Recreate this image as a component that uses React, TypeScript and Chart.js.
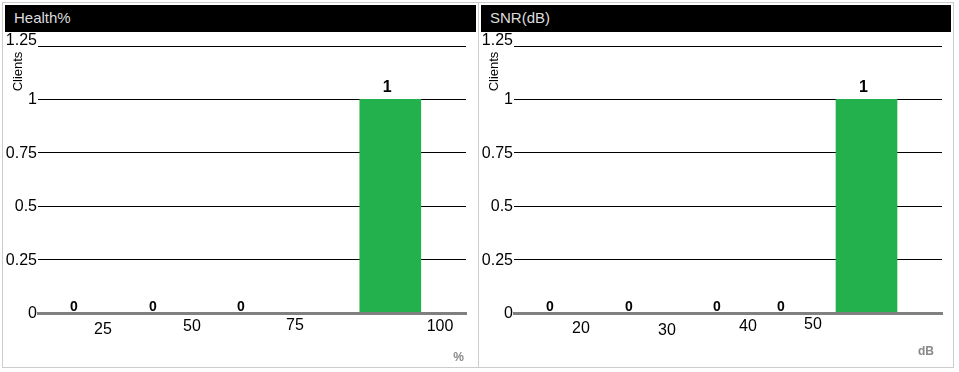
import React, { useEffect, useRef } from 'react';
import { Chart, registerables } from 'chart.js';

Chart.register(...registerables);

// ---- Health% panel (positions are in the chart's 0-100 axis units) ----
const healthBinPositions = [8.41, 26.87, 47.43, 82.31];
const healthClients = [0, 0, 0, 1];
const healthTickPositions = [15.19, 35.98, 60.05, 93.93];
const healthTickLabels = ['25', '50', '75', '100'];

// ---- SNR(dB) panel ----
const snrBinPositions = [8.41, 26.87, 47.43, 62.38, 82.36];
const snrClients = [0, 0, 0, 0, 1];
const snrTickPositions = [15.65, 35.75, 54.67, 69.86];
const snrTickLabels = ['20', '30', '40', '50'];

// ---- shared y axis ----
const yTickValues = [0, 0.25, 0.5, 0.75, 1, 1.25];
const yTickLabels = ['0', '0.25', '0.5', '0.75', '1', '1.25'];

const FONT = 'Arial, "Liberation Sans", sans-serif';
const NARROW = '"Liberation Sans Narrow", "Arial Narrow", Arial, "Liberation Sans", sans-serif';

type PanelCfg = {
  title: string;
  unit: string;
  positions: number[];
  values: number[];
  tickPositions: number[];
  tickLabels: string[];
  tickDy: number[];
  unitDx: number;
  unitDy: number;
  padRight: number;
  canvasWidth: number;
};

function makeOverlay(cfg: PanelCfg) {
  return {
    id: 'overlay',
    afterDraw(chart: any) {
      const ctx: CanvasRenderingContext2D = chart.ctx;
      const { left, right, top, bottom } = chart.chartArea;
      const xs = chart.scales.x;
      const ys = chart.scales.y;
      ctx.save();
      // y tick labels
      ctx.fillStyle = '#000';
      ctx.font = `16px ${FONT}`;
      ctx.textAlign = 'right';
      yTickValues.forEach((v, i) => {
        const py = ys.getPixelForValue(v);
        if (i === yTickValues.length - 1) {
          ctx.textBaseline = 'alphabetic';
          ctx.fillText(yTickLabels[i], left - 1, py - 1);
        } else {
          ctx.textBaseline = 'middle';
          ctx.fillText(yTickLabels[i], left - 1, py + 0.5);
        }
      });
      // y axis title
      ctx.save();
      ctx.font = `13px ${FONT}`;
      ctx.translate(left - 16, top + 25.5);
      ctx.rotate(-Math.PI / 2);
      ctx.textAlign = 'center';
      ctx.textBaseline = 'alphabetic';
      ctx.fillText('Clients', 0, 0);
      ctx.restore();
      // x tick labels
      ctx.font = `16px ${FONT}`;
      ctx.textAlign = 'center';
      ctx.textBaseline = 'middle';
      cfg.tickPositions.forEach((p, i) => {
        ctx.fillText(cfg.tickLabels[i], xs.getPixelForValue(p), bottom + cfg.tickDy[i]);
      });
      // unit label
      ctx.fillStyle = '#888';
      ctx.font = `bold 12px ${FONT}`;
      ctx.textAlign = 'right';
      ctx.textBaseline = 'middle';
      ctx.fillText(cfg.unit, right + cfg.unitDx, bottom + cfg.unitDy);
      // value labels
      const meta = chart.getDatasetMeta(0);
      ctx.fillStyle = '#000';
      ctx.textAlign = 'center';
      ctx.textBaseline = 'alphabetic';
      meta.data.forEach((el: any, i: number) => {
        const v = cfg.values[i];
        ctx.font = v > 0 ? `bold 16px ${FONT}` : `bold 14px ${NARROW}`;
        ctx.fillText(String(v), el.x - (v > 0 ? 3 : 0), el.y - (v > 0 ? 7 : 2));
      });
      ctx.restore();
    },
  };
}

function Panel({ cfg, left, width }: { cfg: PanelCfg; left: number; width: number }) {
  const ref = useRef<HTMLCanvasElement>(null);
  useEffect(() => {
    if (!ref.current) return;
    const chart = new Chart(ref.current, {
      type: 'bar',
      data: {
        datasets: [
          {
            data: cfg.positions.map((x, i) => ({ x, y: cfg.values[i] })),
            backgroundColor: '#23b14d',
            borderWidth: 0,
            barThickness: 61,
          } as any,
        ],
      },
      options: {
        responsive: false,
        animation: false,
        events: [],
        layout: { padding: { left: 33, right: cfg.padRight, top: 14, bottom: 52 } },
        plugins: { legend: { display: false }, tooltip: { enabled: false } },
        scales: {
          x: {
            type: 'linear',
            min: 0,
            max: 100,
            offset: false,
            grid: { display: false, drawTicks: false },
            ticks: { display: false },
            border: { display: true, color: '#808080', width: 3, z: 1 },
            afterFit: (s: any) => {
              s.height = 0;
            },
          },
          y: {
            min: 0,
            max: 1.25,
            ticks: { display: false, stepSize: 0.25 },
            grid: { color: '#000', lineWidth: 1, drawTicks: false },
            border: { display: false },
            afterFit: (s: any) => {
              s.width = 0;
            },
          },
        },
      } as any,
      plugins: [makeOverlay(cfg)],
    });
    return () => chart.destroy();
  }, []);
  return (
    <div
      style={{
        position: 'absolute',
        left,
        top: 2,
        width,
        height: 366,
        boxSizing: 'border-box',
        border: '1px solid #cccccc',
        padding: 2,
        background: '#fff',
      }}
    >
      <div
        style={{
          height: 27,
          background: '#000',
          color: '#dddddd',
          fontFamily: FONT,
          fontSize: 15,
          lineHeight: '26px',
          paddingLeft: 9,
          boxSizing: 'border-box',
          whiteSpace: 'nowrap',
          overflow: 'hidden',
        }}
      >
        {cfg.title}
      </div>
      <canvas ref={ref} width={cfg.canvasWidth} height={333} style={{ display: 'block' }} />
    </div>
  );
}

const healthCfg: PanelCfg = {
  title: 'Health%',
  unit: '%',
  positions: healthBinPositions,
  values: healthClients,
  tickPositions: healthTickPositions,
  tickLabels: healthTickLabels,
  tickDy: [17, 14, 13, 14],
  unitDx: -2,
  unitDy: 45,
  padRight: 10,
  canvasWidth: 471,
};

const snrCfg: PanelCfg = {
  title: 'SNR(dB)',
  unit: 'dB',
  positions: snrBinPositions,
  values: snrClients,
  tickPositions: snrTickPositions,
  tickLabels: snrTickLabels,
  tickDy: [16, 18, 14, 12],
  unitDx: -8,
  unitDy: 39,
  padRight: 9,
  canvasWidth: 470,
};

export default function App() {
  return (
    <div style={{ position: 'absolute', left: 0, top: 0, width: 959, height: 372, background: '#fff' }}>
      <Panel cfg={healthCfg} left={2} width={477} />
      <Panel cfg={snrCfg} left={478} width={476} />
    </div>
  );
}
